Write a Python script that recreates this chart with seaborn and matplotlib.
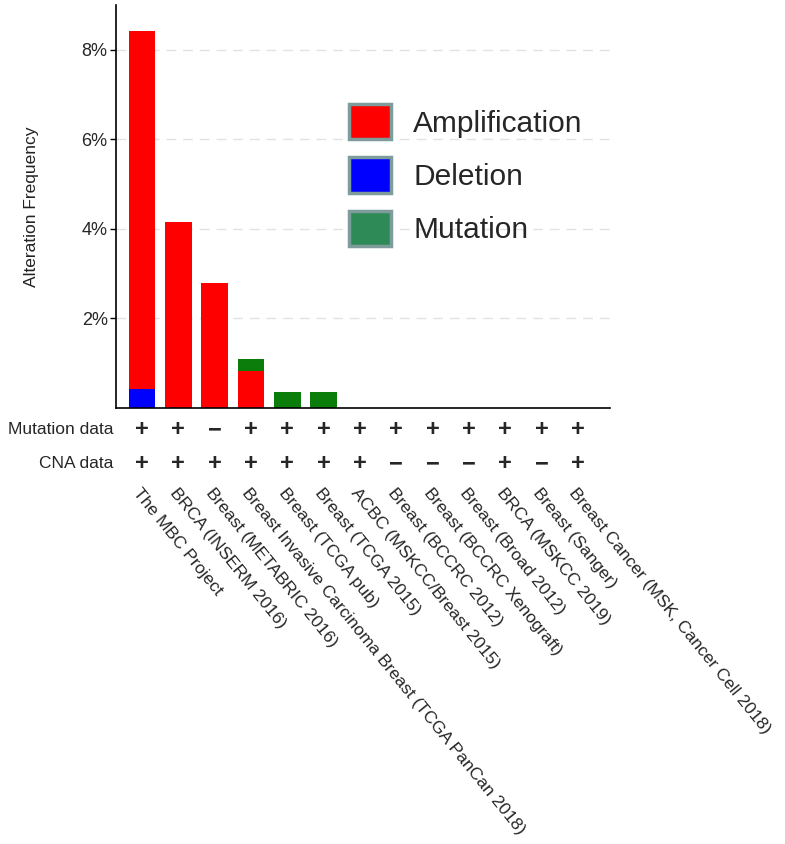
import seaborn as sns
import matplotlib.pyplot as plt
import pandas as pd
from matplotlib.patches import Patch
from matplotlib.transforms import blended_transform_factory

studies = [
    "The MBC Project",
    "BRCA (INSERM 2016)",
    "Breast (METABRIC 2016)",
    "Breast Invasive Carcinoma Breast (TCGA PanCan 2018)",
    "Breast (TCGA pub)",
    "Breast (TCGA 2015)",
    "ACBC (MSKCC/Breast 2015)",
    "Breast (BCCRC 2012)",
    "Breast (BCCRC Xenograft)",
    "Breast (Broad 2012)",
    "BRCA (MSKCC 2019)",
    "Breast (Sanger)",
    "Breast Cancer (MSK, Cancer Cell 2018)",
]
deletion = [0.42, 0, 0, 0, 0, 0, 0, 0, 0, 0, 0, 0, 0]
amplification = [8.0, 4.16, 2.80, 0.83, 0, 0, 0, 0, 0, 0, 0, 0, 0]
mutation = [0, 0, 0, 0.27, 0.36, 0.36, 0, 0, 0, 0, 0, 0, 0]
mutation_data = ["+", "+", "-", "+", "+", "+", "+", "+", "+", "+", "+", "+", "+"]
cna_data = ["+", "+", "+", "+", "+", "+", "+", "-", "-", "-", "+", "-", "+"]

RED = "#FF0000"
BLUE = "#0000FF"
GREEN_BAR = "#0B7D0B"
GREEN_LEG = "#2E8B57"

df = pd.DataFrame({"study": studies, "deletion": deletion,
                   "amplification": amplification, "mutation": mutation})
df["del_amp"] = df["deletion"] + df["amplification"]
df["total"] = df["del_amp"] + df["mutation"]

sns.set_style("white")
plt.rcParams["font.family"] = ["Liberation Sans", "DejaVu Sans"]

W, H = 785, 844
fig = plt.figure(figsize=(W / 100, H / 100), dpi=100)
ax_l, ax_r, ax_b, ax_t = 116, 610, 408, 5
ax = fig.add_axes([ax_l / W, 1 - ax_b / H, (ax_r - ax_l) / W, (ax_b - ax_t) / H])

# stacked bars drawn as overlaid cumulative bars
for col, c in [("total", GREEN_BAR), ("del_amp", RED), ("deletion", BLUE)]:
    sns.barplot(data=df, x="study", y=col, color=c, width=0.73,
                saturation=1, ax=ax, order=studies, linewidth=0)

ax.set_xlim(-0.716, 12.88)
ax.set_ylim(0, 9)
ax.set_yticks([2, 4, 6, 8])
ax.set_yticklabels(["2%", "4%", "6%", "8%"], fontsize=13)
ax.set_xticks([])
ax.set_xlabel("")
ax.set_ylabel("Alteration Frequency", fontsize=12.5, color="#222222")
ax.yaxis.set_label_coords(-0.155, 0.5)
ax.tick_params(axis="y", length=4, width=1, color="black", pad=2, left=True)
ax.yaxis.grid(True, linestyle=(0, (7, 5)), color="#e2e2e2", linewidth=1)
ax.set_axisbelow(True)
for s in ["top", "right"]:
    ax.spines[s].set_visible(False)
for s in ["left", "bottom"]:
    ax.spines[s].set_color("black")
    ax.spines[s].set_linewidth(1.2)


def ay(p):
    return (ax_b - p) / (ax_b - ax_t)


tr = blended_transform_factory(ax.transData, ax.transAxes)
fig.text(113 / W, 1 - 430 / H, "Mutation data", ha="right", va="center", fontsize=12.5)
fig.text(113 / W, 1 - 464 / H, "CNA data", ha="right", va="center", fontsize=12.5)
for i, (m, c) in enumerate(zip(mutation_data, cna_data)):
    for sym, yp in [(m, 430), (c, 464)]:
        ax.text(i, ay(yp), "+" if sym == "+" else "\u2212", transform=tr,
                ha="center", va="center", fontsize=17, fontweight="bold",
                clip_on=False)

for i, name in enumerate(studies):
    ax.text(i, ay(486), name, transform=tr, rotation=-51,
            rotation_mode="anchor", ha="left", va="top", fontsize=12.6,
            clip_on=False)

handles = [Patch(facecolor=RED, edgecolor="#7f9c9c", linewidth=2.5),
           Patch(facecolor=BLUE, edgecolor="#7f9c9c", linewidth=2.5),
           Patch(facecolor=GREEN_LEG, edgecolor="#7f9c9c", linewidth=2.5)]
ax.legend(handles, ["Amplification", "Deletion", "Mutation"],
          loc="upper left", bbox_to_anchor=((349 - ax_l) / (ax_r - ax_l), ay(104)),
          frameon=False, fontsize=21.5, borderpad=0, borderaxespad=0,
          handlelength=1.4, handleheight=1.45, handletextpad=0.75,
          labelspacing=0.6)

fig.savefig("out.png", dpi=100)
